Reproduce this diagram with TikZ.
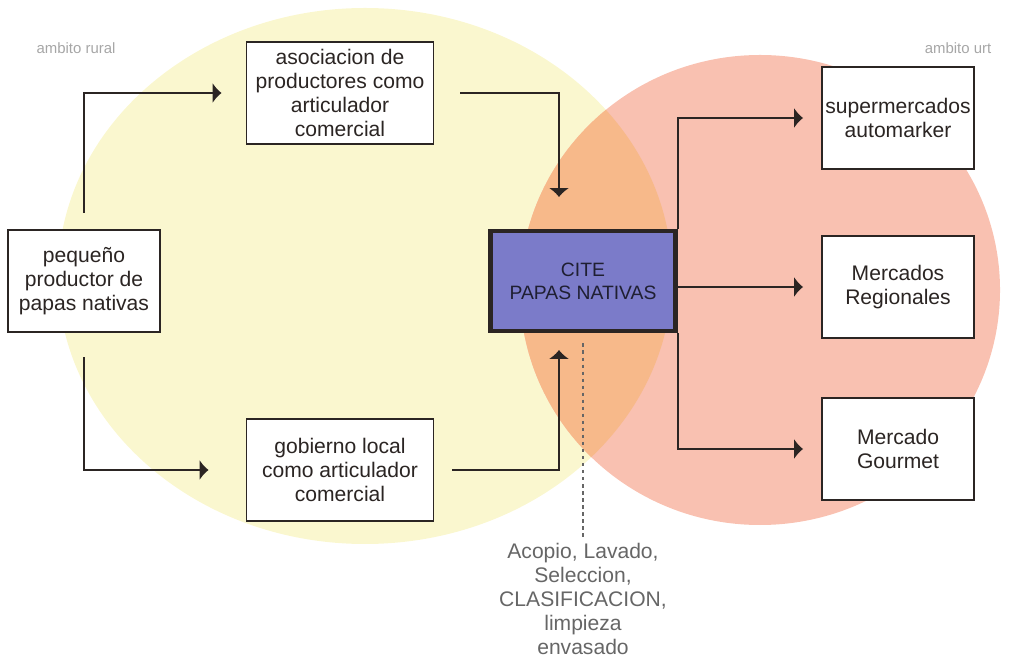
\documentclass[tikz,border=0pt]{standalone}
\usepackage{fontspec}
\setmainfont{Liberation Sans}
\usetikzlibrary{arrows.meta}
\definecolor{ruralyellow}{HTML}{FAF7CF}
\definecolor{urbanpink}{HTML}{F9C1B1}
\definecolor{overlaporange}{HTML}{F7B98A}
\definecolor{citeblue}{HTML}{7B7BC9}
\definecolor{linedark}{HTML}{2B2523}
\definecolor{notegray}{HTML}{666666}
\tikzset{flow/.style={draw=linedark,line width=1.1pt,-{Latex[length=1.8mm,width=4.2mm]}},
         box/.style={draw=linedark,line width=1.1pt,fill=white,align=center,
                     minimum width=3.74cm,minimum height=2.05cm,inner sep=1pt},
         market/.style={box,minimum width=3.04cm}}
\begin{document}
\begin{tikzpicture}
        [x=0.02cm,y=-0.02cm,every node/.style={font=\fontsize{12}{13.7}\selectfont,text=linedark},
         citebox/.style={draw=linedark,line width=2.8pt,fill=citeblue,align=center,
                         minimum width=3.7cm,minimum height=2.0cm,text=citeblue!25!black,
                         font=\fontsize{11}{13}\selectfont},
         procnote/.style={align=center,text=notegray},
         scopelabel/.style={text=black!35,font=\fontsize{8.5}{10}\selectfont}]
        % positions are given in pixels of the original sketch, y pointing down
        \useasboundingbox (0,0) rectangle (1013,661);

        % rural and urban spheres, orange where they overlap
        \fill[ruralyellow] (365,276) ellipse [x radius=307,y radius=268];
        \fill[urbanpink] (760,290) ellipse [x radius=240,y radius=235];
        \begin{scope}
          \clip (365,276) ellipse [x radius=307,y radius=268];
          \fill[overlaporange] (760,290) ellipse [x radius=240,y radius=235];
        \end{scope}

        \node[scopelabel] (rural) at (76,48) {ambito rural};
        \node[scopelabel] (urban) at (958,48) {ambito urt};

        \node[market] (peq) at (84,281) {pequeño\\productor de\\papas nativas};
        \node[box] (asoc) at (340,93) {asociacion de\\productores como\\articulador\\comercial};
        \node[box] (gob) at (340,470) {gobierno local\\como articulador\\comercial};
        \node[citebox] (cite) at (583,281) {CITE\\PAPAS NATIVAS};
        \node[market] (super) at (898,118) {supermercados\\automarker};
        \node[market] (reg) at (898,287) {Mercados\\Regionales};
        \node[market] (gour) at (898,449) {Mercado\\Gourmet};
        \node[procnote] (proc) at (583,599) {Acopio, Lavado,\\Seleccion,\\CLASIFICACION,\\limpieza\\envasado};

        \coordinate (citein) at (559,229); % where the upper arrow meets CITE
        \coordinate (citeup) at (559,334); % where the lower arrow meets CITE

        \draw[flow,shorten <=0.32cm,shorten >=0.48cm] (peq.north) |- (asoc.west);
        \draw[flow,shorten <=0.48cm,shorten >=0.74cm] (peq.south) |- (gob.west);
        \draw[flow,shorten <=0.52cm,shorten >=0.64cm] (asoc.east) -| (citein);
        \draw[flow,shorten <=0.36cm,shorten >=0.32cm] (gob.east) -| (citeup);
        \draw[flow,shorten >=0.36cm] (cite.north east) |- (super.west);
        \draw[flow,shorten >=0.36cm] (cite.east |- reg.west) -- (reg.west);
        \draw[flow,shorten >=0.36cm] (cite.south east) |- (gour.west);
        \draw[notegray,line width=0.6pt,dash pattern=on 2pt off 2pt,shorten <=0.2cm] (cite.south) -- (proc.north);

\end{tikzpicture}
\end{document}
